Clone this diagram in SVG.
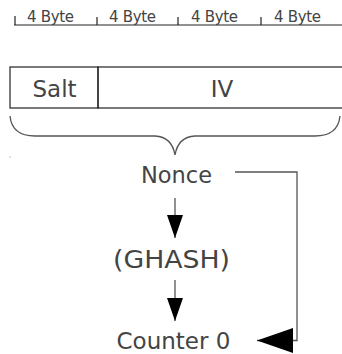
<svg xmlns="http://www.w3.org/2000/svg" width="342" height="354" viewBox="0 0 342 354">
<defs>
<style>
text{font-family:"DejaVu Sans","Liberation Sans",sans-serif;fill:#444;}
.small{font-size:15px;}
.big{text-anchor:middle;}
.rule{stroke:#222;stroke-width:1.2;fill:none;}
.conn{stroke:#555;stroke-width:1.3;fill:none;}
</style>
<marker id="ah" viewBox="0 0 23 16" refX="23" refY="8" markerWidth="23" markerHeight="16" markerUnits="userSpaceOnUse" orient="auto"><path d="M0,0 L23,8 L0,16 z" fill="#000"/></marker>
<marker id="ahbig" viewBox="0 0 36 25" refX="36" refY="12.5" markerWidth="36" markerHeight="25" markerUnits="userSpaceOnUse" orient="auto"><path d="M0,0 L36,12.5 L0,25 z" fill="#000"/></marker>
</defs>
<rect width="342" height="354" fill="#fff"/>
<g id="ruler">
<path class="rule" d="M14,25 H342 M15,16 V25 M97,17 V25 M178,17 V25 M261,17 V25"/>
<text class="small" x="27" y="22" textLength="47" lengthAdjust="spacing">4 Byte</text>
<text class="small" x="109" y="22" textLength="47" lengthAdjust="spacing">4 Byte</text>
<text class="small" x="191" y="22" textLength="47" lengthAdjust="spacing">4 Byte</text>
<text class="small" x="274" y="22" textLength="47" lengthAdjust="spacing">4 Byte</text>
</g>
<g id="salt">
<rect class="rule" x="10" y="67" width="88" height="41"/>
<text class="big" x="54.5" y="97" font-size="23">Salt</text>
</g>
<g id="iv">
<rect class="rule" x="98" y="67" width="250" height="41"/>
<text class="big" x="222" y="97" font-size="23">IV</text>
</g>
<g id="brace">
<path class="conn" stroke="#222" d="M10,116 Q12,136 35,136 L155,136 Q172,137 175,155 Q178,137 195,136 L315,136 Q338,136 340,116"/>
<rect x="9.5" y="156.5" width="1" height="1" fill="#888"/>
</g>
<g id="nonce"><text class="big" x="176.5" y="183" font-size="22.5">Nonce</text></g>
<g id="ghash"><text class="big" x="171.5" y="268" font-size="24" textLength="117" lengthAdjust="spacingAndGlyphs">(GHASH)</text></g>
<g id="counter0"><text class="big" x="173.5" y="349" font-size="23">Counter 0</text></g>
<g id="connectors">
<path class="conn" d="M175,198 L175,238" marker-end="url(#ah)"/>
<path class="conn" d="M175,280 L175,321" marker-end="url(#ah)"/>
<path class="conn" d="M235,172 H297 V340.5 H257" marker-end="url(#ahbig)"/>
</g>
</svg>
